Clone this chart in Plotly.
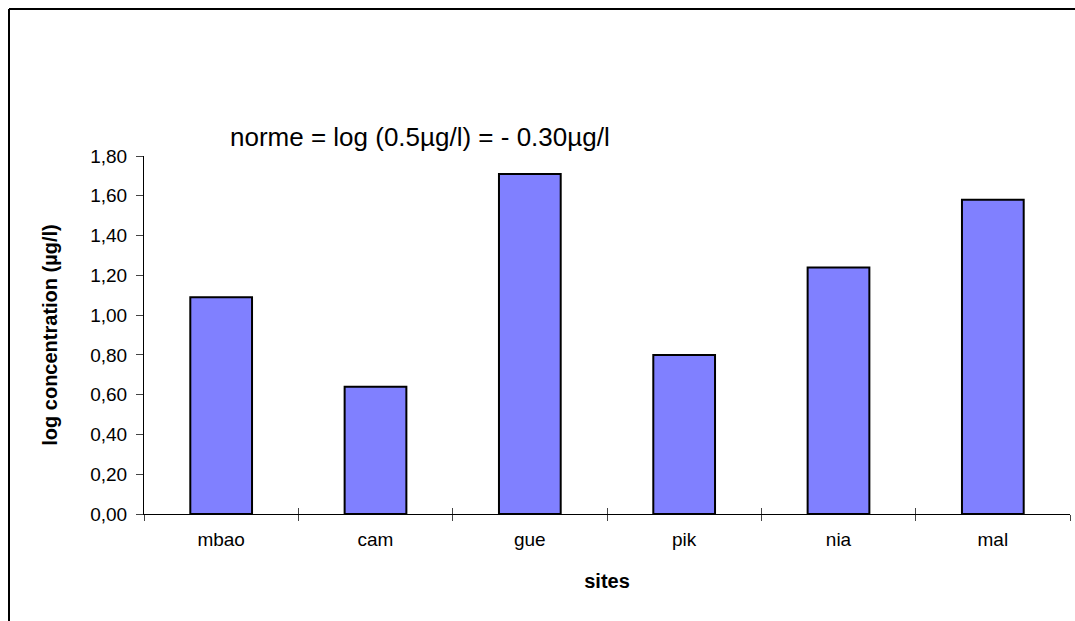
import plotly.graph_objects as go

sites = ["mbao", "cam", "gue", "pik", "nia", "mal"]
log_conc = [1.09, 0.64, 1.71, 0.80, 1.24, 1.58]
y_ticks = [0.0, 0.2, 0.4, 0.6, 0.8, 1.0, 1.2, 1.4, 1.6, 1.8]

W, H = 1075, 621
L, R, T, B = 144, 5, 156, 107
pw = W - L - R
ph = H - T - B

fig = go.Figure()
fig.add_trace(go.Bar(
    x=sites, y=log_conc,
    marker=dict(color="#8080FF", line=dict(color="black", width=2)),
    showlegend=False, hoverinfo="skip"))
# invisible trace for overlay axis (ticks crossing the x axis)
fig.add_trace(go.Scatter(x=sites, y=log_conc, xaxis="x2", mode="markers",
                         marker=dict(opacity=0), showlegend=False, hoverinfo="skip"))

font = dict(family="Liberation Sans, Arial, sans-serif", color="black")

fig.update_layout(
    width=W, height=H,
    margin=dict(l=L, r=R, t=T, b=B),
    paper_bgcolor="white", plot_bgcolor="white",
    separators=",.",
    bargap=0.6,
    font=dict(**font, size=19),
    xaxis=dict(
        type="category", range=[-0.5, 5.5],
        showline=True, linecolor="black", linewidth=1,
        ticks="outside", tickson="boundaries", ticklen=6, tickcolor="#444",
        ticklabelstandoff=8,
        showgrid=False, zeroline=False,
        tickfont=dict(**font, size=19),
        title=dict(text="<b>sites</b>", font=dict(**font, size=20), standoff=25),
    ),
    xaxis2=dict(
        type="category", range=[-0.5, 5.5], overlaying="x",
        anchor="y",
        showline=False, ticks="inside", tickson="boundaries", ticklen=6, tickcolor="#444",
        showticklabels=False, showgrid=False, zeroline=False,
    ),
    yaxis=dict(
        range=[0, 1.8], tickvals=y_ticks, tickformat=".2f",
        showline=True, linecolor="black", linewidth=1,
        ticks="outside", ticklen=7, tickcolor="#444",
        ticklabelstandoff=5,
        showgrid=False, zeroline=False,
        tickfont=dict(**font, size=19),
        title=dict(text="<b>log concentration (µg/l)</b>", font=dict(**font, size=20), standoff=27),
    ),
    annotations=[dict(
        text="norme = log (0.5µg/l) = - 0.30µg/l",
        xref="paper", yref="paper",
        x=(228 - L) / pw, y=(H - B - 137) / ph,
        xanchor="left", yanchor="middle", showarrow=False,
        font=dict(**font, size=26),
    )],
    shapes=[
        dict(type="line", xref="paper", yref="paper",
             x0=(9 - L) / pw, x1=(W + 20 - L) / pw,
             y0=(H - B - 9) / ph, y1=(H - B - 9) / ph,
             line=dict(color="black", width=2)),
        dict(type="line", xref="paper", yref="paper",
             x0=(9 - L) / pw, x1=(9 - L) / pw,
             y0=(H - B - 9) / ph, y1=(H - B - H - 20) / ph,
             line=dict(color="black", width=2)),
    ],
)

fig.write_html("out.html", config={"displayModeBar": False},
               post_script="document.body.style.margin='0';document.body.style.overflow='hidden';")
